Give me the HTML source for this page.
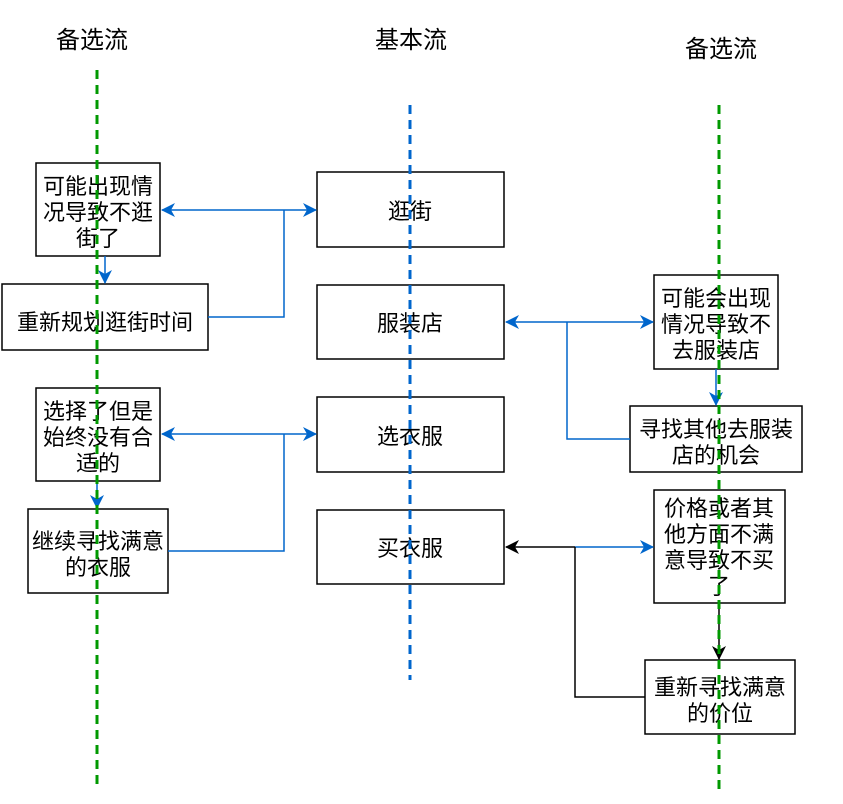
<!DOCTYPE html>
<html><head><meta charset="utf-8"><style>html,body{margin:0;padding:0;background:#fff}svg{display:block}</style></head>
<body>
<svg width="843" height="804" viewBox="0 0 843 804" xmlns="http://www.w3.org/2000/svg" font-family="Liberation Sans, Noto Sans CJK SC, sans-serif">
<defs>
<marker id="b" viewBox="0 0 14 14" refX="13" refY="7" markerWidth="14" markerHeight="14" orient="auto-start-reverse" markerUnits="userSpaceOnUse"><path d="M0,0 L14,7 L0,14 L4,7 z" fill="#0066cc"/></marker>
<marker id="k" viewBox="0 0 14 14" refX="13" refY="7" markerWidth="14" markerHeight="14" orient="auto-start-reverse" markerUnits="userSpaceOnUse"><path d="M0,0 L14,7 L0,14 L4,7 z" fill="#000"/></marker>
</defs>
<g font-size="24" fill="#000" text-anchor="middle">
<text x="92" y="48">备选流</text><text x="411" y="48">基本流</text><text x="721" y="57">备选流</text>
</g>
<g fill="#fff" stroke="#000" stroke-width="1.5">
<rect x="36" y="163" width="124" height="93"/><rect x="2" y="284" width="206" height="66"/>
<rect x="36" y="388" width="124" height="93"/><rect x="28" y="509" width="140" height="84"/>
<rect x="317" y="172" width="187" height="75"/><rect x="317" y="285" width="187" height="74"/>
<rect x="317" y="397" width="187" height="75"/><rect x="317" y="510" width="187" height="74"/>
<rect x="654" y="275" width="124" height="94"/><rect x="630" y="406" width="172" height="66"/>
<rect x="654" y="490" width="131" height="113"/><rect x="645" y="660" width="150" height="74"/>
</g>
<g fill="none" stroke-width="1.5">
<path d="M162,210 H316" stroke="#0066cc" marker-start="url(#b)" marker-end="url(#b)"/>
<path d="M208,317 H284 V210" stroke="#0066cc"/>
<path d="M105,256 V283" stroke="#0066cc" marker-end="url(#b)"/>
<path d="M162,434 H316" stroke="#0066cc" marker-start="url(#b)" marker-end="url(#b)"/>
<path d="M168,551 H284 V434" stroke="#0066cc"/>
<path d="M97,481 V508" stroke="#0066cc" marker-end="url(#b)"/>
<path d="M506,322 H653" stroke="#0066cc" marker-start="url(#b)" marker-end="url(#b)"/>
<path d="M630,439 H567 V322" stroke="#0066cc"/>
<path d="M716,369 V405" stroke="#0066cc" marker-end="url(#b)"/>
<path d="M575,547 H653" stroke="#0066cc" marker-end="url(#b)"/>
<path d="M575,547 H506" stroke="#000" marker-end="url(#k)"/>
<path d="M645,697 H575 V547" stroke="#000"/>
<path d="M719,603 V659" stroke="#000" marker-end="url(#k)"/>
</g>
<g font-size="22" text-anchor="middle" fill="#000">
<text x="98" y="194">可能出现情</text><text x="98" y="220">况导致不逛</text><text x="98" y="246">街了</text>
<text x="105" y="330">重新规划逛街时间</text>
<text x="98" y="419">选择了但是</text><text x="98" y="445">始终没有合</text><text x="98" y="471">适的</text>
<text x="98" y="549">继续寻找满意</text><text x="98" y="575">的衣服</text>
<text x="410" y="219">逛街</text><text x="410" y="331">服装店</text><text x="410" y="444">选衣服</text><text x="410" y="556">买衣服</text>
<text x="716" y="306">可能会出现</text><text x="716" y="332">情况导致不</text><text x="716" y="358">去服装店</text>
<text x="716" y="437">寻找其他去服装</text><text x="716" y="463">店的机会</text>
<text x="719" y="516">价格或者其</text><text x="719" y="542">他方面不满</text><text x="719" y="568">意导致不买</text><text x="719" y="594">了</text>
<text x="720" y="695">重新寻找满意</text><text x="720" y="721">的价位</text>
</g>
<g fill="none" stroke-width="3" stroke-dasharray="9,6">
<path d="M97,70 V790" stroke="#009900"/>
<path d="M410,105 V680" stroke="#0066cc"/>
<path d="M719,105 V790" stroke="#009900"/>
</g>
</svg>
</body></html>
